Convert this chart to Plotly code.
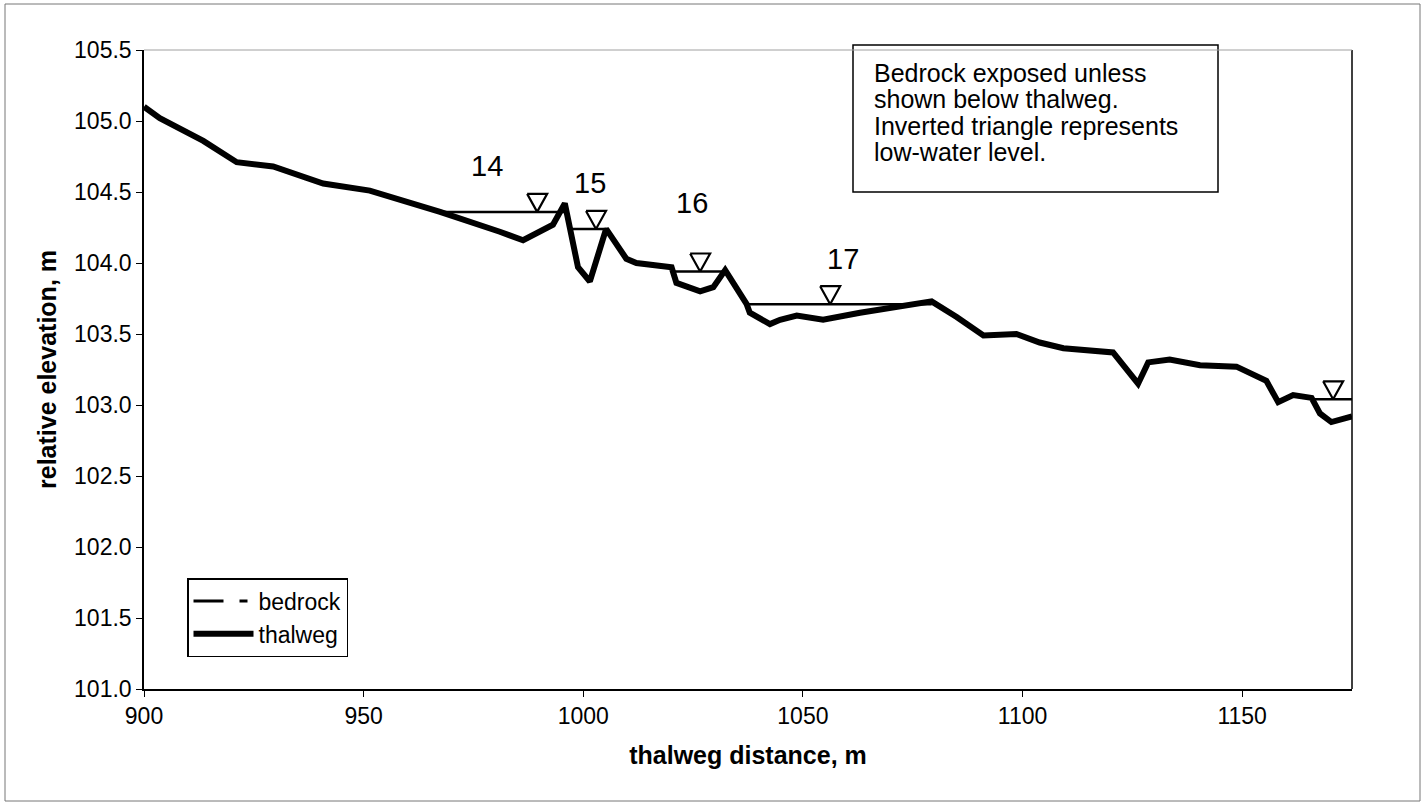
import plotly.graph_objects as go

# ---- figure geometry -------------------------------------------------------
W, H = 1424, 805
M_L, M_R, M_T, M_B = 144, 72, 50, 116
X_RANGE = [900, 1175]
Y_RANGE = [101.0, 105.5]
FONT = "Liberation Sans, Arial, sans-serif"

# ---- thalweg profile -------------------------------------------------------
dist = [900.0, 903.6, 913.5, 921.1, 929.4, 940.8, 951.4, 967.4, 981.0, 986.3,
        993.1, 995.8, 998.8, 1001.5, 1005.2, 1007.0, 1009.8, 1012.1, 1017.5,
        1020.1, 1021.2, 1026.6, 1029.6, 1032.3, 1037.2, 1037.9, 1042.5, 1044.8,
        1048.6, 1054.6, 1063.0, 1072.1, 1079.3, 1085.0, 1091.1, 1098.6, 1103.9,
        1109.3, 1120.6, 1126.3, 1128.6, 1133.5, 1140.4, 1148.7, 1155.5, 1158.2,
        1161.6, 1165.8, 1167.7, 1170.3, 1174.5, 1175.0]
thalweg = [105.10, 105.02, 104.86, 104.71, 104.68, 104.56, 104.51, 104.36, 104.22, 104.16,
           104.27, 104.42, 103.97, 103.87, 104.24, 104.15, 104.03, 104.00, 103.98,
           103.97, 103.86, 103.80, 103.83, 103.95, 103.71, 103.65, 103.57, 103.60,
           103.63, 103.60, 103.65, 103.70, 103.73, 103.62, 103.49, 103.50, 103.44,
           103.40, 103.37, 103.15, 103.30, 103.32, 103.28, 103.27, 103.17, 103.02,
           103.07, 103.05, 102.94, 102.88, 102.92, 102.92]

# ---- low-water pools -------------------------------------------------------
pool_names = ["14", "15", "16", "17", ""]
pool_start = [967.4, 997.0, 1020.4, 1037.2, 1166.1]
pool_end = [995.8, 1005.2, 1032.3, 1079.3, 1175.0]
pool_level = [104.36, 104.24, 103.94, 103.71, 103.04]
marker_x = [989.5, 1002.9, 1026.6, 1056.2, 1170.7]
name_x = [978.0, 1001.5, 1024.7, 1059.1]
name_y = [104.68, 104.56, 104.42, 104.03]

note_lines = ["Bedrock exposed unless", "shown below thalweg.",
              "Inverted triangle represents", "low-water level."]

# ---- pixel helpers ---------------------------------------------------------
plot_w = W - M_L - M_R
plot_h = H - M_T - M_B
m_per_px_x = (X_RANGE[1] - X_RANGE[0]) / plot_w
m_per_px_y = (Y_RANGE[1] - Y_RANGE[0]) / plot_h


def px_paper_x(px):
    return (px - M_L) / plot_w


def px_paper_y(py):
    return (H - M_B - py) / plot_h


fig = go.Figure()

# bedrock has no exposure below the thalweg in this reach: legend entry only
fig.add_trace(go.Scatter(
    x=[None], y=[None], mode="lines", name="bedrock",
    line=dict(color="black", width=3, dash="30px,16px,8px,16px"),
))

fig.add_trace(go.Scatter(
    x=dist, y=thalweg, mode="lines", name="thalweg",
    line=dict(color="black", width=6),
))

# water surface lines
wx, wy = [], []
for s, e, lvl in zip(pool_start, pool_end, pool_level):
    wx += [s, e, None]
    wy += [lvl, lvl, None]
fig.add_trace(go.Scatter(
    x=wx, y=wy, mode="lines", showlegend=False, hoverinfo="skip",
    line=dict(color="black", width=2.5),
))

# inverted open triangles with the tip on the water level
half_w = 10 * m_per_px_x
tri_h = 18 * m_per_px_y
tx, ty = [], []
for xm, lvl in zip(marker_x, pool_level):
    tx += [xm - half_w, xm + half_w, xm, xm - half_w, None]
    ty += [lvl + tri_h, lvl + tri_h, lvl, lvl + tri_h, None]
fig.add_trace(go.Scatter(
    x=tx, y=ty, mode="lines", showlegend=False, hoverinfo="skip",
    line=dict(color="black", width=2.2),
))

# pool numbers
for name, xn, yn in zip(pool_names, name_x, name_y):
    fig.add_annotation(x=xn, y=yn, text=name, showarrow=False,
                       font=dict(family=FONT, size=29, color="black"))

# explanatory note: framed box with four text lines
fig.add_shape(type="rect", xref="paper", yref="paper",
              x0=px_paper_x(853), x1=px_paper_x(1218),
              y0=px_paper_y(192), y1=px_paper_y(45),
              line=dict(color="black", width=1.5), fillcolor="white")
for i, line_txt in enumerate(note_lines):
    fig.add_annotation(
        xref="paper", yref="paper", x=px_paper_x(872), y=px_paper_y(73 + 26.3 * i),
        xanchor="left", yanchor="middle", text=line_txt, showarrow=False,
        font=dict(family=FONT, size=25, color="black"),
    )

# plot-area right/top edges and the outer frame
fig.add_shape(type="line", xref="paper", yref="paper", x0=1, x1=1, y0=0, y1=1,
              line=dict(color="black", width=1.5))
fig.add_shape(type="line", xref="paper", yref="paper", x0=0, x1=1, y0=1, y1=1,
              line=dict(color="#a0a0a0", width=1))
fig.add_shape(type="rect", xref="paper", yref="paper",
              x0=px_paper_x(5), x1=px_paper_x(1420),
              y0=px_paper_y(801), y1=px_paper_y(4),
              line=dict(color="#777777", width=1), layer="below")

fig.update_layout(
    width=W, height=H,
    margin=dict(l=M_L, r=M_R, t=M_T, b=M_B),
    paper_bgcolor="white", plot_bgcolor="white",
    font=dict(family=FONT, color="black"),
    showlegend=True,
    legend=dict(
        x=px_paper_x(187), y=px_paper_y(578), xanchor="left", yanchor="top",
        bgcolor="white", bordercolor="black", borderwidth=1.5,
        font=dict(family=FONT, size=23, color="black"),
        itemwidth=60, tracegroupgap=0,
    ),
    xaxis=dict(
        range=X_RANGE, tick0=900, dtick=50,
        showline=True, linecolor="black", linewidth=1.5,
        ticks="outside", ticklen=6, tickcolor="black",
        showgrid=False, zeroline=False,
        tickfont=dict(family=FONT, size=23),
        title=dict(text="thalweg distance, m", standoff=18,
                   font=dict(family=FONT, size=25, weight="bold")),
    ),
    yaxis=dict(
        range=Y_RANGE, tick0=101, dtick=0.5, tickformat=".1f",
        showline=True, linecolor="black", linewidth=1.5,
        ticks="outside", ticklen=6, tickcolor="black",
        showgrid=False, zeroline=False,
        tickfont=dict(family=FONT, size=23),
        title=dict(text="relative elevation, m", standoff=10,
                   font=dict(family=FONT, size=25, weight="bold")),
    ),
)

fig.write_html("out.html")
